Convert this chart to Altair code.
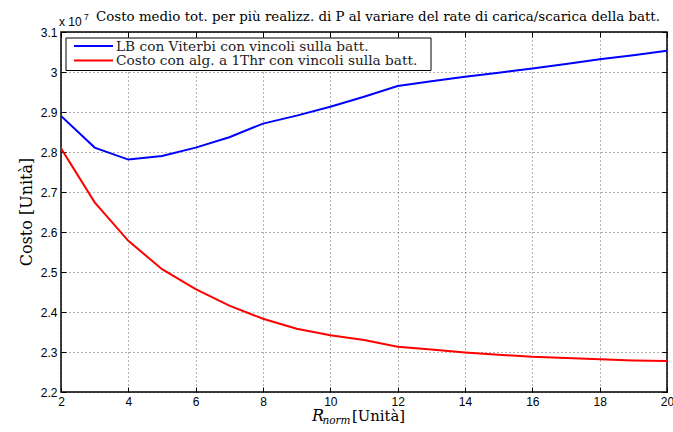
import altair as alt
import pandas as pd

r_norm = list(range(2, 21))
lb_viterbi = [2.89, 2.811, 2.781, 2.79, 2.811, 2.837, 2.871, 2.891, 2.913, 2.938, 2.965,
              2.977, 2.988, 2.998, 3.009, 3.02, 3.032, 3.042, 3.053]
costo_1thr = [2.809, 2.674, 2.578, 2.507, 2.457, 2.416, 2.383, 2.358, 2.342, 2.33, 2.313,
              2.306, 2.299, 2.293, 2.288, 2.285, 2.282, 2.279, 2.2775]
series_names = ["LB con Viterbi con vincoli sulla batt.",
                "Costo con alg. a 1Thr con vincoli sulla batt."]
series_colors = ["#0000ff", "#ff0000"]
x_ticks = [2, 4, 6, 8, 10, 12, 14, 16, 18, 20]
y_ticks = [2.2, 2.3, 2.4, 2.5, 2.6, 2.7, 2.8, 2.9, 3.0, 3.1]
title_text = "Costo medio tot. per più realizz. di P al variare del rate di carica/scarica della batt."

W, H = 606, 360
SANS = "Liberation Sans"
SERIF = "DejaVu Serif"

df = pd.DataFrame({
    "R": r_norm * 2,
    "Costo": lb_viterbi + costo_1thr,
    "Serie": [series_names[0]] * len(r_norm) + [series_names[1]] * len(r_norm),
})

xs = alt.Scale(domain=[2, 20], nice=False, zero=False)
ys = alt.Scale(domain=[2.2, 3.1], nice=False, zero=False)

grid_kw = dict(grid=True, gridDash=[1, 3], gridColor="#000", gridOpacity=0.6, gridWidth=1,
               ticks=False, domain=False, labelFont=SANS, labelFontSize=12, labelColor="#000",
               labelFlush=False, labelOverlap=False, title=None)

lines = alt.Chart(df).mark_line(strokeWidth=2, clip=True).encode(
    x=alt.X("R:Q", scale=xs, axis=alt.Axis(values=x_ticks, labelPadding=4, orient="bottom", **grid_kw)),
    y=alt.Y("Costo:Q", scale=ys, axis=alt.Axis(values=y_ticks, format=".1~f", labelPadding=4,
                                               orient="left", **grid_kw)),
    color=alt.Color("Serie:N", scale=alt.Scale(domain=series_names, range=series_colors), legend=None),
)

tick_kw = dict(grid=False, labels=False, domain=False, ticks=True, tickSize=5, tickColor="#000",
               tickWidth=1, offset=-5, title=None)


def tick_layer(xo, yo):
    return alt.Chart(df).mark_line(strokeOpacity=0).encode(
        x=alt.X("R:Q", scale=xs, axis=alt.Axis(values=x_ticks, orient=xo, **tick_kw)),
        y=alt.Y("Costo:Q", scale=ys, axis=alt.Axis(values=y_ticks, orient=yo, **tick_kw)),
        detail="Serie:N",
    )


ticks_bl = tick_layer("bottom", "left")
ticks_tr = tick_layer("top", "right")


def label(txt, x, y, size, font=SERIF, style="normal", align="left", angle=0,
          baseline="alphabetic", color="#000"):
    return alt.Chart(pd.DataFrame({"t": [txt]})).mark_text(
        align=align, baseline=baseline, font=font, fontSize=size, fontStyle=style,
        angle=angle, color=color).encode(x=alt.value(x), y=alt.value(y), text="t:N")


def hline(x1, x2, y, color, width):
    return alt.Chart(pd.DataFrame({"k": [0]})).mark_rule(color=color, strokeWidth=width).encode(
        x=alt.value(x1), x2=alt.value(x2), y=alt.value(y))


leg_box = alt.Chart(pd.DataFrame({"k": [0]})).mark_rect(
    fill="white", stroke="black", strokeWidth=1).encode(
    x=alt.value(5), x2=alt.value(370), y=alt.value(6), y2=alt.value(38.5))
leg_rows = [14, 28.5]
legend_layers = [leg_box]
for name, col, yy in zip(series_names, series_colors, leg_rows):
    legend_layers.append(hline(13, 52, yy, col, 2))
    legend_layers.append(label(name, 55, yy + 4.5, 13.7, color="#222"))

title = label(title_text, 35, -11.5, 13.4)
exp_a = label("x 10", -2, -6, 12, font=SANS)
exp_b = label("7", 23, -12, 8.5, font=SANS)
ytitle = label("Costo [Unità]", -34, 180, 16, angle=270, align="center", baseline="middle")
xt1 = label("R", 251, 389, 16, style="italic")
xt2 = label("norm", 261.5, 391.5, 10.5, style="italic")
xt3 = label("[Unità]", 291, 389, 14.8)

chart = alt.layer(
    lines, ticks_bl, ticks_tr, *legend_layers,
    title, exp_a, exp_b, ytitle, xt1, xt2, xt3,
).resolve_axis(x="independent", y="independent").properties(
    width=W, height=H,
    autosize=alt.AutoSizeParams(type="none"),
    padding={"left": 61, "top": 32, "right": 6, "bottom": 40},
    background="white",
).configure_view(stroke="black", strokeWidth=1.5)

chart.save("out.html", embed_options={"renderer": "svg", "actions": False})
